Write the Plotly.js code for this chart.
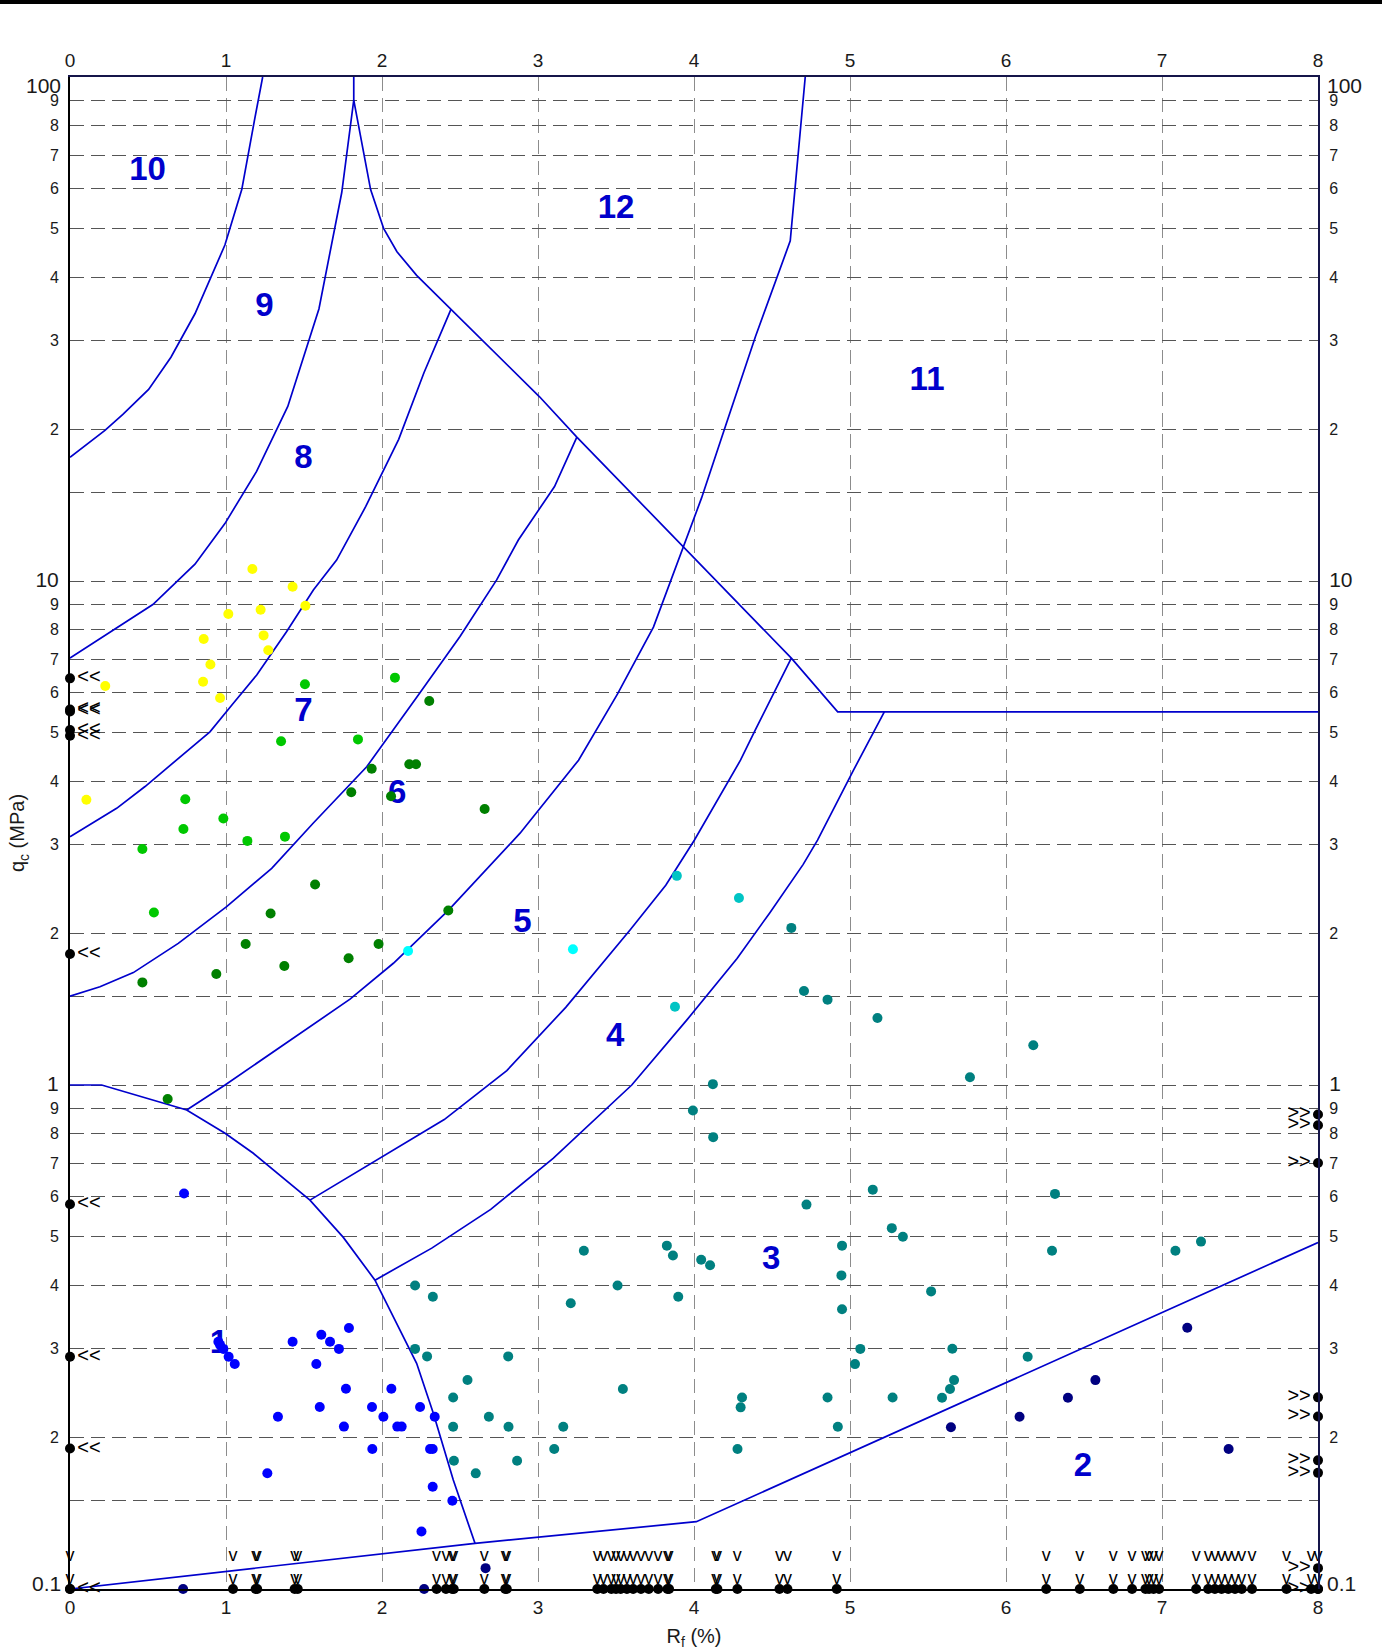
<!DOCTYPE html>
<html>
<head>
<meta charset="utf-8">
<script src="https://cdn.plot.ly/plotly-3.0.1.min.js"></script>
<style>
html,body{margin:0;padding:0;background:#fff;overflow:hidden;}
#topbar{position:absolute;left:0;top:0;width:1382px;height:4px;background:#000;z-index:5;}
#chart{width:1382px;height:1652px;}
</style>
</head>
<body>
<div id="topbar"></div>
<div id="chart"></div>
<script>
// ---------------- axes ----------------
const RF_RANGE = [0, 8];
const QC_RANGE = [0.1, 100];
const rfTickVals = [0, 1, 2, 3, 4, 5, 6, 7, 8];
const rfTickText = ['0', '1', '2', '3', '4', '5', '6', '7', '8'];
const qcTickVals = [0.1, 0.15, 0.2, 0.3, 0.4, 0.5, 0.6, 0.7, 0.8, 0.9,
                    1, 1.5, 2, 3, 4, 5, 6, 7, 8, 9,
                    10, 15, 20, 30, 40, 50, 60, 70, 80, 90, 100];
const qcTickText = ['0.1', '', '2', '3', '4', '5', '6', '7', '8', '9',
                    '1', '', '2', '3', '4', '5', '6', '7', '8', '9',
                    '10', '', '2', '3', '4', '5', '6', '7', '8', '9', '100'];
const qcDecades = [0.1, 1, 10, 100];

// ---------------- zone boundaries (Rf %, qc MPa) ----------------
const b10Rf = [0, 0.224, 0.339, 0.504, 0.647, 0.801, 0.993, 1.101, 1.185, 1.235];
const b10Qc = [17.6, 19.9, 21.4, 24.0, 27.8, 33.9, 46.4, 59.8, 82.9, 100];

const b9Rf = [0, 0.397, 0.531, 0.801, 0.993, 1.196, 1.396, 1.596, 1.742, 1.819, 1.819];
const b9Qc = [7.03, 8.43, 8.98, 10.8, 13.0, 16.5, 22.2, 34.7, 59.0, 90, 100];

const b12Rf = [1.819, 1.927, 2.011, 2.096, 2.222, 2.442, 3.010, 3.249, 3.933, 4.624, 4.921, 8];
const b12Qc = [90, 59.8, 50.0, 45.0, 40.4, 34.6, 23.2, 19.3, 11.65, 7.03, 5.5, 5.5];

const b8Rf = [0, 0.299, 0.481, 0.684, 0.897, 1.047, 1.197, 1.389, 1.560, 1.709, 1.896, 2.107, 2.269, 2.442];
const b8Qc = [3.11, 3.54, 3.91, 4.41, 5.02, 5.72, 6.51, 7.94, 9.60, 11.0, 14.06, 19.1, 25.9, 34.6];

const b7Rf = [0, 0.192, 0.406, 0.694, 1.004, 1.293, 1.560, 1.902, 2.233, 2.5, 2.735, 2.874, 3.106, 3.249];
const b7Qc = [1.5, 1.567, 1.671, 1.91, 2.259, 2.69, 3.31, 4.28, 5.94, 7.76, 10.05, 12.06, 15.4, 19.3];

const b6Rf = [0.748, 0.994, 1.795, 2.073, 2.425, 2.885, 3.26, 3.51, 3.740, 3.933, 4.048, 4.202, 4.393, 4.617, 4.713];
const b6Qc = [0.892, 1.0, 1.48, 1.744, 2.22, 3.16, 4.41, 5.97, 8.1, 11.65, 14.6, 20.3, 30.5, 47.3, 100];

const b5Rf = [1.538, 1.987, 2.399, 2.8, 3.178, 3.590, 3.819, 4.002, 4.298, 4.394, 4.624];
const b5Qc = [0.591, 0.715, 0.854, 1.068, 1.426, 2.03, 2.49, 3.06, 4.41, 5.07, 7.03];

const b4Rf = [1.955, 2.319, 2.697, 3.097, 3.601, 3.956, 4.276, 4.483, 4.70, 4.792, 5.02, 5.22];
const b4Qc = [0.41, 0.4746, 0.5665, 0.715, 1.0, 1.348, 1.783, 2.19, 2.74, 3.06, 4.2, 5.5];

const b1Rf = [0, 0.203, 0.748, 0.994, 1.175, 1.538, 1.752, 1.955, 2.222, 2.329, 2.457, 2.596];
const b1Qc = [1.0, 1.0, 0.892, 0.802, 0.732, 0.591, 0.4985, 0.41, 0.2804, 0.2232, 0.1645, 0.1232];

const b2Rf = [0, 2.596, 4.015, 8];
const b2Qc = [0.1, 0.1232, 0.136, 0.487];

// zone numbers and their anchor points
const zoneText = ['10', '9', '8', '7', '6', '5', '4', '3', '2', '1', '12', '11'];
const zoneRf = [0.497, 1.246, 1.496, 1.496, 2.097, 2.90, 3.495, 4.494, 6.493, 0.955, 3.50, 5.494];
const zoneQc = [64.9, 34.9, 17.4, 5.47, 3.77, 2.09, 1.24, 0.448, 0.174, 0.305, 54.6, 24.9];

// ---------------- CPT data points ----------------
const yellowRf = [1.169, 1.427, 1.509, 1.015, 1.222, 0.857, 1.241, 1.271, 0.900, 0.853, 0.226, 0.962, 0.105];
const yellowQc = [10.56, 9.74, 8.93, 8.60, 8.77, 7.67, 7.80, 7.29, 6.83, 6.31, 6.19, 5.86, 3.68];

const lgreenRf = [1.506, 2.083, 1.353, 1.846, 0.739, 0.983, 0.727, 0.464, 1.137, 1.378, 0.538];
const lgreenQc = [6.24, 6.43, 4.81, 4.85, 3.69, 3.38, 3.22, 2.94, 3.05, 3.11, 2.20];

const dgreenRf = [2.303, 1.934, 2.175, 2.218, 1.803, 2.058, 2.658, 1.571, 1.286, 2.425, 1.126, 1.978, 1.786, 1.374, 0.938, 0.464, 0.626];
const dgreenQc = [5.78, 4.24, 4.33, 4.33, 3.81, 3.74, 3.53, 2.50, 2.19, 2.22, 1.905, 1.905, 1.784, 1.722, 1.661, 1.598, 0.938];

const cyanRf = [2.167, 3.224];
const cyanQc = [1.845, 1.86];

const cyan2Rf = [3.890, 4.288, 3.878];
const cyan2Qc = [2.60, 2.35, 1.43];

const tealRf = [4.624, 4.705, 4.856, 5.176, 4.121, 3.993, 4.123, 5.146, 4.721, 5.268, 5.339, 4.949, 3.294, 3.826, 3.865, 4.046, 4.103, 4.945, 2.212, 2.326,
                3.510, 3.210, 3.899, 4.949, 5.520, 2.212, 2.289, 2.809, 5.066, 5.032, 2.548, 3.544, 2.456, 4.308, 4.299, 4.856, 5.273, 5.590, 2.685, 2.456,
                2.811, 3.162, 4.922, 3.104, 4.279, 2.866, 2.461, 2.601, 6.175, 5.769, 6.314, 6.295, 7.086, 7.250, 5.656, 6.139, 5.667, 5.641];
const tealQc = [2.05, 1.536, 1.477, 1.358, 1.004, 0.890, 0.788, 0.620, 0.579, 0.520, 0.500, 0.480, 0.469, 0.480, 0.459, 0.450, 0.439, 0.419, 0.400, 0.380,
                0.400, 0.369, 0.380, 0.359, 0.3895, 0.2995, 0.2894, 0.2894, 0.2995, 0.2794, 0.2599, 0.2493, 0.2398, 0.2398, 0.2293, 0.2398, 0.2398, 0.2395, 0.2197, 0.2098,
                0.2098, 0.2098, 0.2098, 0.1896, 0.1896, 0.1797, 0.1797, 0.1696, 1.199, 1.036, 0.608, 0.469, 0.469, 0.489, 0.2996, 0.289, 0.2597, 0.2493];

const blueRf = [0.731, 0.951, 0.962, 0.983, 1.017, 1.056, 1.427, 1.611, 1.667, 1.788, 1.724, 1.579, 1.769, 2.060, 1.601, 1.936, 2.244, 1.333, 2.009, 2.338,
                1.756, 2.098, 2.126, 1.938, 2.308, 2.325, 1.265, 2.325, 2.451, 2.253];
const blueQc = [0.609, 0.3095, 0.305, 0.2995, 0.2890, 0.2795, 0.3095, 0.3196, 0.3095, 0.3295, 0.2995, 0.2795, 0.2496, 0.2496, 0.2297, 0.2297, 0.2297, 0.2197, 0.2197, 0.2197,
                0.210, 0.210, 0.210, 0.1896, 0.1896, 0.1896, 0.1697, 0.1596, 0.1497, 0.1300];

const navyRf = [7.162, 6.573, 6.397, 6.087, 5.647, 7.427, 2.664, 0.725, 2.27];
const navyQc = [0.330, 0.2597, 0.2395, 0.2196, 0.2093, 0.1895, 0.110, 0.1, 0.1];

// points outside the chart limits (drawn on the border)
const leftOutQc = [6.41, 5.56, 5.51, 5.06, 4.93, 1.82, 0.58, 0.289, 0.19, 0.1];
const rightOutQc = [0.874, 0.832, 0.700, 0.240, 0.220, 0.180, 0.170, 0.110, 0.1];
const bottomOutRf = [0, 1.045, 1.19, 1.20, 1.44, 1.46, 2.35, 2.41, 2.45, 2.46, 2.656, 2.79, 2.80,
                     3.38, 3.42, 3.47, 3.50, 3.53, 3.57, 3.61, 3.66, 3.71, 3.77, 3.83, 3.84,
                     4.14, 4.15, 4.278, 4.548, 4.599, 4.915,
                     6.258, 6.473, 6.688, 6.808, 6.894, 6.917, 6.946, 6.981,
                     7.219, 7.296, 7.339, 7.382, 7.425, 7.468, 7.511, 7.577, 7.798, 7.956, 8];

// ---------------- styles ----------------
const FONT = 'Liberation Sans, Arial, Helvetica, sans-serif';
const ZONE_FONT = 'Liberation Sans Narrow, Arial Narrow, Liberation Sans, sans-serif';
const LINE_BLUE = '#0000CC';
const TXT = '#1a1a1a';
const DOT = 10;

const traces = [];
const boundaries = [[b10Rf, b10Qc], [b9Rf, b9Qc], [b12Rf, b12Qc], [b8Rf, b8Qc], [b7Rf, b7Qc],
                    [b6Rf, b6Qc], [b5Rf, b5Qc], [b4Rf, b4Qc], [b1Rf, b1Qc], [b2Rf, b2Qc]];
boundaries.forEach(([x, y]) => traces.push({
  x: x, y: y, mode: 'lines', line: {color: LINE_BLUE, width: 1.7},
  hoverinfo: 'skip', showlegend: false
}));

traces.push({
  x: zoneRf, y: zoneQc, text: zoneText, mode: 'text',
  textfont: {family: ZONE_FONT, size: 33, color: LINE_BLUE, weight: 'bold'},
  textposition: 'middle center', hoverinfo: 'skip', showlegend: false
});

function pts(x, y, color) {
  return {x: x, y: y, mode: 'markers', marker: {color: color, size: DOT, line: {width: 0}},
          cliponaxis: false, showlegend: false};
}
traces.push(pts(yellowRf, yellowQc, '#FFFF00'));
traces.push(pts(lgreenRf, lgreenQc, '#00C800'));
traces.push(pts(dgreenRf, dgreenQc, '#008000'));
traces.push(pts(cyanRf, cyanQc, '#00FFFF'));
traces.push(pts(cyan2Rf, cyan2Qc, '#00C4C4'));
traces.push(pts(tealRf, tealQc, '#008080'));
traces.push(pts(blueRf, blueQc, '#0000FF'));
traces.push(pts(navyRf, navyQc, '#000080'));

// out-of-range markers
traces.push({
  x: leftOutQc.map(() => RF_RANGE[0]), y: leftOutQc, mode: 'markers+text',
  text: leftOutQc.map(() => '<<'), textposition: 'middle right',
  textfont: {family: FONT, size: 20, color: '#000'},
  marker: {color: '#000', size: DOT}, cliponaxis: false, showlegend: false
});
traces.push({
  x: rightOutQc.map(() => RF_RANGE[1]), y: rightOutQc, mode: 'markers+text',
  text: rightOutQc.map(() => '>>'), textposition: 'middle left',
  textfont: {family: FONT, size: 20, color: '#000'},
  marker: {color: '#000', size: DOT}, cliponaxis: false, showlegend: false
});
traces.push({
  x: bottomOutRf, y: bottomOutRf.map(() => QC_RANGE[0]), mode: 'text',
  text: bottomOutRf.map(() => 'v<br>v'), textposition: 'top center',
  textfont: {family: FONT, size: 18, color: '#000'},
  cliponaxis: false, showlegend: false
});
traces.push({
  x: bottomOutRf, y: bottomOutRf.map(() => QC_RANGE[0]), mode: 'markers',
  marker: {color: '#000', size: DOT}, cliponaxis: false, showlegend: false
});

// dummy traces so the mirrored axes (top / right) are drawn
traces.push({x: [null], y: [null], xaxis: 'x2', yaxis: 'y', mode: 'lines', hoverinfo: 'skip', showlegend: false});
traces.push({x: [null], y: [null], xaxis: 'x', yaxis: 'y2', mode: 'lines', hoverinfo: 'skip', showlegend: false});

// y tick labels: decades larger, edge decades as annotations
const qcLabels = qcTickVals.map((v, i) => {
  const t = qcTickText[i];
  if (v === QC_RANGE[0] || v === QC_RANGE[1]) return '';
  if (qcDecades.indexOf(v) >= 0) return '<span style="font-size:21px">' + t + '</span>';
  return t;
});
const annotations = [];
[[QC_RANGE[1], -8], [QC_RANGE[0], 6]].forEach(([v, ys]) => {
  const t = qcTickText[qcTickVals.indexOf(v)];
  annotations.push({xref: 'paper', yref: 'y', x: 0, y: Math.log10(v), text: t, showarrow: false,
    xanchor: 'right', yanchor: 'middle', xshift: -7, yshift: ys, font: {family: FONT, size: 21, color: TXT}});
  annotations.push({xref: 'paper', yref: 'y', x: 1, y: Math.log10(v), text: t, showarrow: false,
    xanchor: 'left', yanchor: 'middle', xshift: 7, yshift: ys, font: {family: FONT, size: 21, color: TXT}});
});

const gridDash = '14px,7px';
const layout = {
  width: 1382, height: 1652,
  margin: {l: 70, r: 64, t: 77, b: 63, pad: 0},
  paper_bgcolor: '#ffffff', plot_bgcolor: '#ffffff',
  showlegend: false,
  font: {family: FONT, color: TXT},
  xaxis: {
    range: RF_RANGE, tickmode: 'array', tickvals: rfTickVals, ticktext: rfTickText,
    showgrid: true, gridcolor: '#8c8c8c', gridwidth: 1, griddash: gridDash,
    zeroline: false, showline: true, linecolor: '#000', linewidth: 2, ticks: '',
    tickfont: {size: 19, color: TXT}, automargin: false, fixedrange: true,
    title: {text: 'R<sub>f</sub> (%)', font: {size: 20, color: TXT}, standoff: 12}
  },
  xaxis2: {
    range: RF_RANGE, overlaying: 'x', side: 'top', anchor: 'y',
    tickmode: 'array', tickvals: rfTickVals, ticktext: rfTickText,
    showgrid: false, zeroline: false, showline: true, linecolor: '#15154a', linewidth: 2, ticks: '',
    tickfont: {size: 19, color: TXT}, automargin: false, fixedrange: true
  },
  yaxis: {
    type: 'log', range: [Math.log10(QC_RANGE[0]), Math.log10(QC_RANGE[1])],
    tickmode: 'array', tickvals: qcTickVals, ticktext: qcLabels,
    showgrid: true, gridcolor: '#555555', gridwidth: 1, griddash: gridDash,
    zeroline: false, showline: true, linecolor: '#000', linewidth: 2, ticks: '',
    ticklabelstandoff: 6,
    tickfont: {size: 16, color: TXT}, automargin: false, fixedrange: true,
    title: {text: 'q<sub>c</sub> (MPa)', font: {size: 20, color: TXT}, standoff: 5}
  },
  yaxis2: {
    type: 'log', range: [Math.log10(QC_RANGE[0]), Math.log10(QC_RANGE[1])],
    overlaying: 'y', side: 'right', anchor: 'x',
    tickmode: 'array', tickvals: qcTickVals, ticktext: qcLabels,
    showgrid: false, zeroline: false, showline: true, linecolor: '#15154a', linewidth: 2, ticks: '',
    ticklabelstandoff: 6,
    tickfont: {size: 16, color: TXT}, automargin: false, fixedrange: true
  },
  annotations: annotations
};

Plotly.newPlot('chart', traces, layout, {displayModeBar: false, staticPlot: true});
</script>
</body>
</html>
